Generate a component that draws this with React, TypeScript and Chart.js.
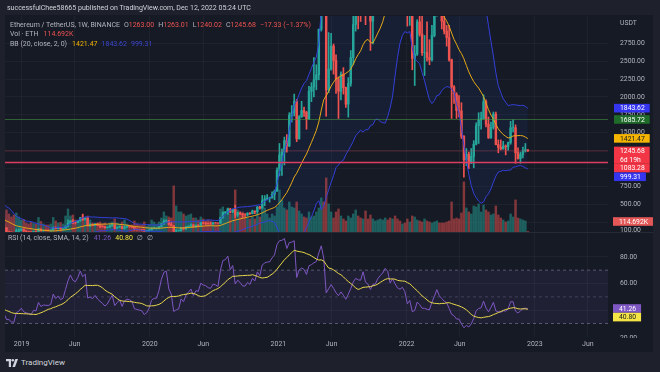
import React, { useEffect, useRef } from "react";
import { Chart, registerables } from "chart.js";
Chart.register(...registerables);

// ---------- DATA (weekly ETH/USDT, week 0 = 2018-04-02) ----------
const START_DATE = "2018-04-02";

const OPEN = [
  385, 400, 510, 615, 690, 790, 730, 715, 570, 615,
  525, 500, 455, 453, 491, 433, 468, 470, 405, 320,
  293, 280, 290, 198, 210, 240, 227, 227, 196, 203,
  200, 212, 213, 172, 113, 112, 88, 84, 130, 138,
  153, 127, 119, 115, 108, 124, 121, 155, 133, 139,
  138, 137, 141, 178, 161, 170, 157, 162, 195, 234,
  268, 251, 246, 269, 309, 291, 307, 210, 215, 207,
  222, 206, 195, 186, 173, 180, 197, 212, 169, 180,
  190, 162, 182, 188, 186, 180, 151, 148, 145, 143,
  128, 132, 143, 163, 168, 168, 189, 228, 260, 266,
  218, 201, 124, 130, 133, 170, 158, 185, 197, 211,
  187, 207, 205, 242, 236, 234, 228, 226, 242, 240,
  236, 311, 387, 395, 433, 390, 428, 352, 380, 370,
  354, 353, 376, 368, 406, 396, 462, 447, 550, 575,
  587, 589, 640, 686, 975, 1192, 1231, 1391, 1316, 1743,
  1780, 1935, 1416, 1723, 1810, 1785, 1693, 2080, 2140, 2240,
  2310, 2945, 3920, 3585, 2100, 2390, 2710, 2510, 2250, 2080,
  2320, 2130, 1900, 2190, 2550, 3012, 3310, 3240, 3225, 3920,
  3430, 3330, 3060, 3415, 3440, 3840, 4100, 4300, 4750, 4630,
  4100, 4440, 4200, 3990, 3920, 4040, 3830, 3145, 3330, 2540,
  2600, 3050, 2880, 2620, 2620, 2550, 2520, 2860, 3140, 3520,
  3210, 3060, 2920, 2830, 2520, 2140, 2040, 1810, 1805, 1450,
  1125, 1200, 1075, 1170, 1340, 1600, 1680, 1700, 1935, 1620,
  1430, 1575, 1760, 1335, 1295, 1275, 1315, 1305, 1365, 1570,
  1570, 1220, 1140, 1195, 1245, 1263.0,
];
const HIGH = [
  420, 535, 620, 710, 830, 800, 740, 720, 630, 625,
  535, 545, 470, 494, 492, 500, 482, 475, 410, 328,
  295, 300, 298, 225, 250, 245, 232, 232, 213, 207,
  220, 224, 215, 175, 125, 117, 93, 158, 159, 160,
  159, 131, 122, 118, 126, 126, 165, 156, 140, 141,
  144, 145, 185, 186, 177, 176, 166, 200, 285, 273,
  288, 252, 277, 319, 364, 315, 312, 230, 225, 236,
  236, 217, 202, 194, 185, 210, 225, 213, 183, 198,
  191, 200, 195, 197, 190, 180, 156, 151, 150, 145,
  136, 145, 175, 181, 171, 190, 231, 287, 283, 276,
  251, 202, 150, 142, 176, 175, 189, 198, 227, 218,
  215, 215, 245, 250, 250, 242, 249, 245, 247, 243,
  320, 395, 400, 445, 445, 430, 488, 392, 394, 370,
  370, 383, 385, 420, 410, 470, 473, 624, 622, 635,
  600, 675, 700, 1011, 1350, 1275, 1440, 1475, 1780, 1880,
  2040, 1965, 1740, 1940, 1860, 1800, 2150, 2200, 2550, 2450,
  2950, 4190, 4372, 3588, 2900, 2890, 2740, 2590, 2280, 2350,
  2410, 2140, 2270, 2650, 3180, 3330, 3360, 3375, 4030, 3975,
  3680, 3340, 3480, 3620, 3930, 4380, 4460, 4800, 4870, 4780,
  4560, 4780, 4420, 4100, 4120, 4100, 3880, 3420, 3360, 2720,
  3080, 3280, 3200, 2860, 3050, 2800, 3000, 3150, 3580, 3560,
  3240, 3190, 3000, 3000, 2530, 2160, 2060, 2020, 1920, 1460,
  1280, 1230, 1280, 1390, 1640, 1780, 1790, 2030, 1960, 1720,
  1650, 1790, 1790, 1400, 1400, 1380, 1330, 1370, 1660, 1680,
  1610, 1290, 1230, 1300, 1350, 1263.01,
];
const LOW = [
  360, 395, 500, 600, 660, 660, 640, 570, 520, 510,
  470, 410, 415, 440, 420, 430, 448, 395, 315, 250,
  265, 275, 185, 167, 195, 210, 213, 190, 195, 195,
  193, 208, 168, 100, 102, 84, 81, 83, 116, 130,
  115, 117, 110, 100, 104, 116, 120, 128, 123, 131,
  132, 132, 140, 157, 159, 150, 150, 160, 185, 230,
  230, 225, 242, 265, 275, 280, 195, 188, 200, 205,
  200, 175, 182, 165, 168, 175, 196, 152, 160, 176,
  158, 152, 177, 180, 176, 137, 140, 142, 130, 117,
  124, 125, 138, 160, 153, 166, 181, 220, 247, 210,
  196, 90, 107, 125, 125, 150, 150, 178, 190, 180,
  182, 198, 199, 225, 215, 223, 218, 222, 237, 232,
  234, 305, 370, 360, 380, 378, 310, 330, 355, 310,
  330, 335, 360, 367, 371, 374, 432, 445, 480, 560,
  530, 587, 565, 680, 896, 905, 1050, 1230, 1305, 1650,
  1735, 1375, 1410, 1714, 1730, 1550, 1690, 1935, 2000, 2100,
  2240, 2920, 3450, 1730, 2060, 2375, 2320, 2050, 1700, 1960,
  2040, 1855, 1718, 2150, 2450, 2920, 2950, 3055, 3160, 3010,
  3270, 2650, 2740, 3280, 3400, 3680, 3900, 4150, 4510, 3950,
  3920, 3500, 3800, 3640, 3780, 3600, 2990, 3000, 2380, 2160,
  2580, 2850, 2580, 2300, 2500, 2450, 2500, 2840, 3130, 3160,
  2950, 2880, 2710, 2500, 1700, 1910, 1700, 1720, 1420, 880,
  1040, 1000, 1070, 1010, 1330, 1350, 1550, 1690, 1580, 1420,
  1420, 1550, 1330, 1220, 1260, 1270, 1190, 1255, 1340, 1510,
  1073, 1130, 1075, 1150, 1230, 1240.02,
];
const CLOSE = [
  400, 510, 615, 690, 790, 730, 715, 570, 615, 525,
  500, 455, 453, 491, 433, 468, 470, 405, 320, 293,
  280, 290, 198, 210, 240, 227, 227, 196, 203, 200,
  212, 213, 172, 113, 112, 88, 84, 130, 138, 153,
  127, 119, 115, 108, 124, 121, 155, 133, 139, 138,
  137, 141, 178, 161, 170, 157, 162, 195, 234, 268,
  251, 246, 269, 309, 291, 307, 210, 215, 207, 222,
  206, 195, 186, 173, 180, 197, 212, 169, 180, 190,
  162, 182, 188, 186, 180, 151, 148, 145, 143, 128,
  132, 143, 163, 168, 168, 189, 228, 260, 266, 218,
  201, 124, 130, 133, 170, 158, 185, 197, 211, 187,
  207, 205, 242, 236, 234, 228, 226, 242, 240, 236,
  311, 387, 395, 433, 390, 428, 352, 380, 370, 354,
  353, 376, 368, 406, 396, 462, 447, 550, 575, 587,
  589, 640, 686, 975, 1192, 1231, 1391, 1316, 1743, 1780,
  1935, 1416, 1723, 1810, 1785, 1693, 2080, 2140, 2240, 2310,
  2945, 3920, 3585, 2100, 2390, 2710, 2510, 2250, 2080, 2320,
  2130, 1900, 2190, 2550, 3012, 3310, 3240, 3225, 3920, 3430,
  3330, 3060, 3415, 3440, 3840, 4100, 4300, 4750, 4630, 4100,
  4440, 4200, 3990, 3920, 4040, 3830, 3145, 3330, 2540, 2600,
  3050, 2880, 2620, 2620, 2550, 2520, 2860, 3140, 3520, 3210,
  3060, 2920, 2830, 2520, 2140, 2040, 1810, 1805, 1450, 1125,
  1200, 1075, 1170, 1340, 1600, 1680, 1700, 1935, 1620, 1430,
  1575, 1760, 1335, 1295, 1275, 1315, 1305, 1365, 1570, 1570,
  1220, 1140, 1195, 1245, 1263.01, 1245.68,
];
// weekly volume, thousands of ETH
const VOLUME = [
  5200, 6400, 6800, 7000, 6600, 6000, 5000, 5400, 5600, 4600,
  4800, 5000, 4800, 4200, 3600, 4000, 3400, 3800, 4600, 5800,
  3800, 3200, 5600, 6000, 4600, 3800, 2600, 3000, 2400, 2000,
  2400, 2600, 3600, 4400, 3600, 3000, 3400, 3800, 3000, 2400,
  2500, 1800, 1600, 1900, 1700, 1600, 2900, 2100, 1600, 1400,
  1400, 1600, 2900, 2200, 1800, 1900, 1600, 3200, 4600, 3200,
  3400, 2400, 2200, 2800, 3400, 2400, 3200, 2400, 1800, 1600,
  1800, 2000, 1600, 1800, 1400, 1800, 2000, 2600, 1800, 1600,
  2000, 2400, 1600, 1400, 1400, 2200, 1600, 1400, 1400, 2000,
  1200, 1400, 2400, 2000, 1600, 2000, 2800, 4000, 3200, 3000,
  2800, 9200, 5200, 4000, 4000, 3600, 3200, 3400, 3600, 2800,
  2800, 2400, 3000, 2600, 2200, 2400, 2200, 2000, 1800, 1600,
  4600, 5000, 4000, 4800, 3600, 3600, 8400, 4400, 3400, 4000,
  3200, 2800, 2600, 3000, 2600, 3600, 3000, 5400, 4800, 3600,
  2800, 3600, 3200, 5000, 8400, 6400, 4800, 4400, 6000, 5000,
  4800, 6000, 4200, 3600, 3000, 2800, 4000, 3000, 3200, 4000,
  4800, 6800, 6000, 10800, 5600, 4000, 2800, 4000, 4600, 3200,
  2600, 2200, 3200, 2800, 3600, 4400, 3200, 2800, 2600, 4200,
  2600, 3400, 2600, 2200, 2400, 2600, 2400, 2800, 2400, 2800,
  2600, 3200, 2600, 2200, 1600, 1800, 2600, 2000, 3200, 3000,
  2400, 2200, 2000, 2600, 2200, 2000, 1800, 2000, 2200, 1800,
  1800, 1800, 2000, 2200, 6000, 2600, 2800, 2600, 3800, 10000,
  4800, 4000, 3600, 5200, 5000, 5600, 4000, 5400, 4400, 4000,
  3400, 3600, 5200, 3400, 2800, 2400, 2000, 2200, 3600, 3000,
  6400, 2800, 2600, 2400, 2200, 114.692,
];

const TICK_DATES = [
  "2019-01-01", "2019-06-01", "2020-01-01", "2020-06-01", "2021-01-01",
  "2021-06-01", "2022-01-01", "2022-06-01", "2023-01-01", "2023-06-01",
];
const TICK_LABELS = ["2019", "Jun", "2020", "Jun", "2021", "Jun", "2022", "Jun", "2023", "Jun"];
const PRICE_TICKS = [250, 500, 750, 1000, 1250, 1500, 1750, 2000, 2250, 2500, 2750];
const RSI_TICKS = [40, 60, 80];

const LAST_OHLC = [1263.0, 1263.01, 1240.02, 1245.68];
const LAST_CHANGE = "\u221217.33 (\u22121.37%)";
const VOL_LAST_LABEL = "114.692K";
const BB_VALUES = [1421.47, 1843.62, 999.31]; // basis, upper, lower
const H_LINE_GREEN = 1685.72;
const H_LINE_RED = 1083.28;
const COUNTDOWN = "6d 19h";
const RSI_VALUES = [41.26, 40.8];

// ---------- STYLE ----------
const FONT = 'Roboto, "Noto Sans", "DejaVu Sans", sans-serif';
const OUTER_BG = "#1e212b";
const PANE_BG = "#161a25";
const GRID = "rgba(255,255,255,0.035)";
const AXIS_TXT = "#b2b5be";
const UP = "#26a69a";
const DN = "#ef5350";
const VOL_UP = "rgba(38,166,154,0.5)";
const VOL_DN = "rgba(239,83,80,0.5)";
const BB_BAND = "#3340d8";
const BB_BASIS = "#e6a817";
const BB_FILL = "rgba(41,98,255,0.07)";
const RSI_C = "#7e57c2";
const RSI_MA_C = "#e8d84a";

const X_MIN = 32.39;
const X_MAX = 277.6;
const P_MIN = 113.2;
const P_MAX = 3131.6;
const VOL_MAX = 43100;
const RSI_MIN = 19.875;
const RSI_MAX = 97.875;

const WEEK_MS = 7 * 864e5;
const weekIndex = (d: string) => (Date.parse(d) - Date.parse(START_DATE)) / WEEK_MS;
const TICK_POS = TICK_DATES.map(weekIndex);

// ---------- indicators from the close series ----------
function bollinger(close: number[], n: number, mult: number) {
  const basis: (number | null)[] = [];
  const upper: (number | null)[] = [];
  const lower: (number | null)[] = [];
  for (let i = 0; i < close.length; i++) {
    if (i < n - 1) { basis.push(null); upper.push(null); lower.push(null); continue; }
    const w = close.slice(i - n + 1, i + 1);
    const m = w.reduce((a, b) => a + b, 0) / n;
    const sd = Math.sqrt(w.reduce((a, b) => a + (b - m) * (b - m), 0) / n);
    basis.push(m); upper.push(m + mult * sd); lower.push(m - mult * sd);
  }
  return { basis, upper, lower };
}
function rsiOf(close: number[], n: number) {
  const out: (number | null)[] = [null];
  let su = 0, sd = 0, au = 0, ad = 0;
  for (let i = 1; i < close.length; i++) {
    const ch = close[i] - close[i - 1];
    const u = Math.max(ch, 0), d = Math.max(-ch, 0);
    if (i < n) { su += u; sd += d; out.push(null); continue; }
    if (i === n) { su += u; sd += d; au = su / n; ad = sd / n; }
    else { au = (au * (n - 1) + u) / n; ad = (ad * (n - 1) + d) / n; }
    out.push(ad === 0 ? 100 : 100 - 100 / (1 + au / ad));
  }
  return out;
}
function smaOf(arr: (number | null)[], n: number) {
  return arr.map((_, i) => {
    if (i < n - 1) return null;
    const w = arr.slice(i - n + 1, i + 1);
    if (w.some((v) => v === null)) return null;
    return (w as number[]).reduce((a, b) => a + b, 0) / n;
  });
}

type LabelItem = { y: number; lines: string[]; bg: string; fg: string };
function drawLabelBoxes(ctx: CanvasRenderingContext2D, left: number, items: LabelItem[]) {
  const LH = 8.6;
  ctx.font = `6.8px ${FONT}`;
  ctx.textBaseline = "middle";
  ctx.textAlign = "left";
  const sorted = [...items].sort((a, b) => a.y - b.y);
  let prev = -1e9;
  for (const it of sorted) {
    const h = LH * it.lines.length;
    let top = it.y - LH / 2;
    if (top < prev) top = prev;
    const w = Math.max(...it.lines.map((l) => ctx.measureText(l).width)) + 11;
    ctx.fillStyle = it.bg;
    ctx.fillRect(left, top, w, h);
    ctx.fillStyle = it.fg;
    it.lines.forEach((l, j) => ctx.fillText(l, left + 6, top + LH / 2 + j * LH + 0.5));
    prev = top + h;
  }
}

const mainOverlay = {
  id: "mainOverlay",
  afterDatasetsDraw(chart: any) {
    const { ctx, chartArea: a, scales } = chart;
    const y = scales.y;
    ctx.save();
    const hline = (v: number, color: string, w: number) => {
      const py = y.getPixelForValue(v);
      ctx.strokeStyle = color;
      ctx.lineWidth = w;
      ctx.beginPath();
      ctx.moveTo(a.left, py);
      ctx.lineTo(a.right, py);
      ctx.stroke();
    };
    hline(LAST_OHLC[3], "rgba(200,70,90,0.35)", 1);
    hline(H_LINE_GREEN, "rgba(76,160,70,0.55)", 1);
    hline(H_LINE_RED, "#dc3d62", 1.5);
    ctx.restore();
  },
  afterDraw(chart: any) {
    const { ctx, chartArea: a, scales } = chart;
    const y = scales.y;
    const yv = scales.yv;
    ctx.save();
    ctx.font = `6.8px ${FONT}`;
    ctx.fillStyle = AXIS_TXT;
    ctx.textBaseline = "middle";
    ctx.fillText("USDT", a.right + 12, 7);
    drawLabelBoxes(ctx, a.right + 6, [
      { y: y.getPixelForValue(BB_VALUES[1]), lines: [BB_VALUES[1].toFixed(2)], bg: "#3535f0", fg: "#ffffff" },
      { y: y.getPixelForValue(H_LINE_GREEN), lines: [H_LINE_GREEN.toFixed(2)], bg: "#1f6b2a", fg: "#ffffff" },
      { y: y.getPixelForValue(BB_VALUES[0]), lines: [BB_VALUES[0].toFixed(2)], bg: "#f5b400", fg: "#131722" },
      { y: y.getPixelForValue(LAST_OHLC[3]), lines: [LAST_OHLC[3].toFixed(2), COUNTDOWN], bg: "#f23645", fg: "#ffffff" },
      { y: y.getPixelForValue(H_LINE_RED), lines: [H_LINE_RED.toFixed(2)], bg: "#f23645", fg: "#ffffff" },
      { y: y.getPixelForValue(BB_VALUES[2]), lines: [BB_VALUES[2].toFixed(2)], bg: "#3535f0", fg: "#ffffff" },
    ]);
    const vy = Math.min(yv.getPixelForValue(VOLUME[VOLUME.length - 1]), a.bottom - 10.5);
    drawLabelBoxes(ctx, a.right + 5, [{ y: vy, lines: [VOL_LAST_LABEL], bg: "#e35757", fg: "#ffffff" }]);
    ctx.restore();
  },
};

const rsiOverlay = {
  id: "rsiOverlay",
  beforeDatasetsDraw(chart: any) {
    const { ctx, chartArea: a, scales } = chart;
    const y = scales.y;
    ctx.save();
    const y70 = y.getPixelForValue(70), y30 = y.getPixelForValue(30), y50 = y.getPixelForValue(50);
    ctx.fillStyle = "rgba(126,87,194,0.1)";
    ctx.fillRect(a.left, y70, a.right - a.left, y30 - y70);
    ctx.setLineDash([3, 3]);
    ctx.lineWidth = 1;
    ctx.strokeStyle = "rgba(140,135,170,0.55)";
    [y70, y30].forEach((py) => { ctx.beginPath(); ctx.moveTo(a.left, py); ctx.lineTo(a.right, py); ctx.stroke(); });
    ctx.strokeStyle = "rgba(140,135,170,0.3)";
    ctx.beginPath(); ctx.moveTo(a.left, y50); ctx.lineTo(a.right, y50); ctx.stroke();
    ctx.restore();
  },
  afterDraw(chart: any) {
    const { ctx, chartArea: a, scales } = chart;
    const y = scales.y;
    ctx.save();
    ctx.font = `6.8px ${FONT}`;
    ctx.fillStyle = AXIS_TXT;
    ctx.textBaseline = "middle";
    ctx.fillText((100).toFixed(2), a.right + 12, y.getPixelForValue(100));
    ctx.save();
    ctx.beginPath();
    ctx.rect(a.right, a.top, 60, a.bottom - a.top + 1);
    ctx.clip();
    ctx.fillText((20).toFixed(2), a.right + 12, y.getPixelForValue(20) + 1);
    ctx.restore();
    drawLabelBoxes(ctx, a.right + 5, [
      { y: y.getPixelForValue(RSI_VALUES[0]), lines: [RSI_VALUES[0].toFixed(2)], bg: RSI_C, fg: "#ffffff" },
      { y: y.getPixelForValue(RSI_VALUES[1]), lines: [RSI_VALUES[1].toFixed(2)], bg: "#f5e445", fg: "#131722" },
    ]);
    ctx.restore();
  },
};

const xCommon = {
  type: "linear" as const,
  min: X_MIN,
  max: X_MAX,
  offset: false,
  afterBuildTicks: (s: any) => { s.ticks = TICK_POS.map((v) => ({ value: v })); },
  grid: { color: GRID, drawTicks: false, offset: false },
  border: { display: false },
};

const yFit = (s: any) => { s.width = 45; s.paddingTop = 0; s.paddingBottom = 0; };

export default function App() {
  const mainRef = useRef<HTMLCanvasElement>(null);
  const rsiRef = useRef<HTMLCanvasElement>(null);

  useEffect(() => {
    Chart.defaults.font.family = FONT;
    Chart.defaults.font.size = 7;
    const bb = bollinger(CLOSE, 20, 2);
    const rsi = rsiOf(CLOSE, 14);
    const rsiMa = smaOf(rsi, 14);
    const candleColors = CLOSE.map((c, i) => (c >= OPEN[i] ? UP : DN));
    const volColors = CLOSE.map((c, i) => (c >= OPEN[i] ? VOL_UP : VOL_DN));
    const pts = (arr: (number | null)[]) => arr.map((v, i) => ({ x: i, y: v }));

    const main = new Chart(mainRef.current as HTMLCanvasElement, {
      type: "bar",
      data: {
        datasets: [
          { type: "bar", yAxisID: "yv", data: VOLUME.map((v, i) => ({ x: i, y: v })) as any, backgroundColor: volColors, barThickness: 1.8, grouped: false, order: 6 } as any,
          { type: "line", yAxisID: "y", data: pts(bb.upper) as any, borderColor: BB_BAND, borderWidth: 1, pointRadius: 0, fill: false, order: 1 } as any,
          { type: "line", yAxisID: "y", data: pts(bb.lower) as any, borderColor: BB_BAND, borderWidth: 1, pointRadius: 0, fill: "-1", backgroundColor: BB_FILL, order: 1 } as any,
          { type: "line", yAxisID: "y", data: pts(bb.basis) as any, borderColor: BB_BASIS, borderWidth: 1, pointRadius: 0, fill: false, order: 0 } as any,
          { type: "bar", yAxisID: "y", data: HIGH.map((h, i) => ({ x: i, y: [LOW[i], h] })) as any, backgroundColor: candleColors, barThickness: 1, grouped: false, order: 4 } as any,
          { type: "bar", yAxisID: "y", data: OPEN.map((o, i) => ({ x: i, y: [o, CLOSE[i]] })) as any, backgroundColor: candleColors, barThickness: 1.8, grouped: false, order: 3 } as any,
        ],
      },
      options: {
        animation: false,
        responsive: false,
        devicePixelRatio: 1,
        events: [],
        layout: { padding: 0 },
        plugins: { legend: { display: false }, tooltip: { enabled: false }, filler: { drawTime: "beforeDatasetsDraw" } } as any,
        scales: {
          x: { ...xCommon, ticks: { display: false }, afterFit: (s: any) => { s.height = 0; } } as any,
          y: {
            position: "right", min: P_MIN, max: P_MAX,
            afterBuildTicks: (s: any) => { s.ticks = PRICE_TICKS.map((v) => ({ value: v })); },
            ticks: { padding: 12, color: AXIS_TXT, font: { size: 6.8 }, callback: (v: any) => Number(v).toFixed(2) },
            grid: { color: GRID, drawTicks: false }, border: { display: false },
            afterFit: yFit,
          } as any,
          yv: { display: false, min: 0, max: VOL_MAX } as any,
        },
      },
      plugins: [mainOverlay],
    });

    const rsiChart = new Chart(rsiRef.current as HTMLCanvasElement, {
      type: "line",
      data: {
        datasets: [
          { data: pts(rsi) as any, borderColor: RSI_C, borderWidth: 1, pointRadius: 0, order: 1 } as any,
          { data: pts(rsiMa) as any, borderColor: RSI_MA_C, borderWidth: 1, pointRadius: 0, order: 0 } as any,
        ],
      },
      options: {
        animation: false,
        responsive: false,
        devicePixelRatio: 1,
        events: [],
        layout: { padding: { top: 9 } },
        plugins: { legend: { display: false }, tooltip: { enabled: false } },
        scales: {
          x: {
            ...xCommon,
            ticks: { autoSkip: false, maxRotation: 0, padding: 3, color: AXIS_TXT, font: { size: 7 }, callback: (_v: any, i: number) => TICK_LABELS[i] ?? "" },
            afterFit: (s: any) => { s.height = 15; },
          } as any,
          y: {
            position: "right", min: RSI_MIN, max: RSI_MAX,
            afterBuildTicks: (s: any) => { s.ticks = RSI_TICKS.map((v) => ({ value: v })); },
            ticks: { padding: 12, color: AXIS_TXT, font: { size: 6.8 }, callback: (v: any) => Number(v).toFixed(2) },
            grid: { color: GRID, drawTicks: false }, border: { display: false },
            afterFit: yFit,
          } as any,
        },
      },
      plugins: [rsiOverlay],
    });

    return () => { main.destroy(); rsiChart.destroy(); };
  }, []);

  const gray = { color: "#b2b5be" };
  const red = { color: "#ef5350" };
  const txt: React.CSSProperties = { position: "absolute", fontSize: 7, lineHeight: "9px", whiteSpace: "nowrap", zIndex: 5 };
  const f2 = (v: number) => v.toFixed(2);

  return (
    <div style={{ position: "fixed", left: 0, top: 0, width: 660, height: 372, background: OUTER_BG, overflow: "hidden", fontFamily: FONT }}>
      <div style={{ position: "absolute", left: 5, top: 15, width: 648, height: 337, background: PANE_BG }} />
      <canvas ref={rsiRef} width={648} height={128} style={{ position: "absolute", left: 5, top: 224, zIndex: 1 }} />
      <canvas ref={mainRef} width={648} height={216} style={{ position: "absolute", left: 5, top: 16, zIndex: 2 }} />
      <div style={{ position: "absolute", left: 5, top: 232, width: 648, height: 1, background: "#262a36", zIndex: 3 }} />

      <div style={{ ...txt, left: 7, top: 3.5, color: "#d1d4dc" }}>
        successfulChee58665 published on TradingView.com, Dec 12, 2022 05:24 UTC
      </div>
      <div style={{ ...txt, left: 10, top: 20.5, ...gray }}>
        <span>Ethereum / TetherUS, 1W, BINANCE</span>
        <span style={{ marginLeft: 4 }}>O</span><span style={red}>{f2(LAST_OHLC[0])}</span>
        <span style={{ marginLeft: 4 }}>H</span><span style={red}>{f2(LAST_OHLC[1])}</span>
        <span style={{ marginLeft: 4 }}>L</span><span style={red}>{f2(LAST_OHLC[2])}</span>
        <span style={{ marginLeft: 4 }}>C</span><span style={red}>{f2(LAST_OHLC[3])}</span>
        <span style={{ marginLeft: 4, ...red }}>{LAST_CHANGE}</span>
      </div>
      <div style={{ ...txt, left: 10, top: 30, ...gray }}>
        <span>Vol · ETH</span>
        <span style={{ marginLeft: 5, ...red }}>{VOL_LAST_LABEL}</span>
      </div>
      <div style={{ ...txt, left: 10, top: 39.5, ...gray }}>
        <span>BB (20, close, 2, 0)</span>
        <span style={{ marginLeft: 5, color: "#f5b400" }}>{f2(BB_VALUES[0])}</span>
        <span style={{ marginLeft: 4, color: "#3b46d0" }}>{f2(BB_VALUES[1])}</span>
        <span style={{ marginLeft: 4, color: "#3b46d0" }}>{f2(BB_VALUES[2])}</span>
      </div>
      <div style={{ ...txt, left: 8, top: 233.5, ...gray }}>
        <span>RSI (14, close, SMA, 14, 2)</span>
        <span style={{ marginLeft: 5, color: RSI_C }}>{f2(RSI_VALUES[0])}</span>
        <span style={{ marginLeft: 4, color: "#f5e445" }}>{f2(RSI_VALUES[1])}</span>
        <span style={{ marginLeft: 4 }}>∅</span>
        <span style={{ marginLeft: 4 }}>∅</span>
      </div>

      <div style={{ position: "absolute", left: 6, top: 358, display: "flex", alignItems: "center", color: "#d1d4dc", fontSize: 8, zIndex: 5 }}>
        <svg width="12" height="8" viewBox="0 0 12 8" style={{ marginRight: 3 }}>
          <path d="M0 0h5v8H2.8V2.3H0z" fill="#d1d4dc" />
          <circle cx="6.8" cy="1.3" r="1.3" fill="#d1d4dc" />
          <path d="M9.4 0H12L9 8H6.4z" fill="#d1d4dc" />
        </svg>
        <span>TradingView</span>
      </div>
    </div>
  );
}
